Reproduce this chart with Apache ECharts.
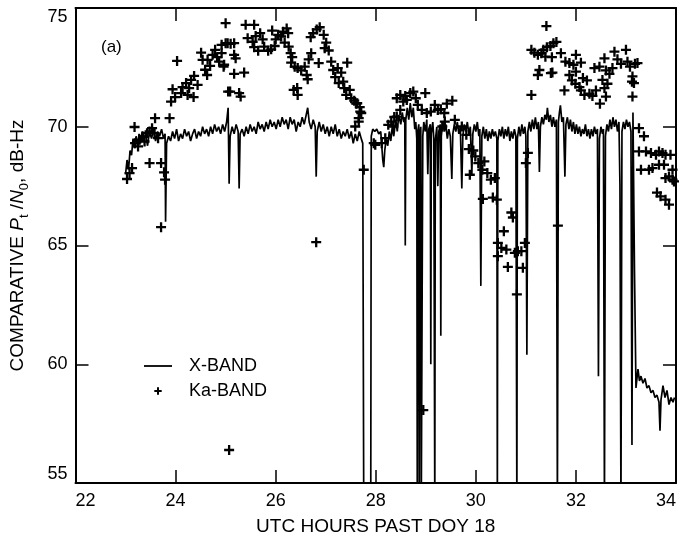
<!DOCTYPE html>
<html><head><meta charset="utf-8">
<script src="https://cdn.jsdelivr.net/npm/echarts@6/dist/echarts.min.js"></script>
<style>html,body{margin:0;padding:0;background:#fff}#c{width:679px;height:541px}</style>
</head><body><div id="c"></div>
<script>
const xTickLabels = [22, 24, 26, 28, 30, 32, 34];
const yTickLabels = [55, 60, 65, 70, 75];
const seriesNames = ['X-BAND', 'Ka-BAND'];

// X-band: [hours past DOY 18, dB-Hz]; 54 = dropout below the axis
const xBand = [
[23.00,68.0],[23.03,68.6],[23.06,68.2],[23.09,69.0],[23.12,68.8],[23.15,69.5],[23.18,69.1],[23.21,69.6],[23.24,69.2],[23.27,69.7],
[23.30,69.3],[23.33,69.8],[23.36,69.4],[23.40,69.7],[23.44,69.2],[23.48,69.8],[23.52,69.5],[23.56,69.9],[23.60,69.4],[23.64,69.8],
[23.68,69.6],[23.72,69.9],[23.76,69.5],[23.79,69.7],[23.80,66.0],[23.82,69.3],[23.86,69.6],[23.90,69.4],[23.94,69.8],[23.98,69.5],
[24.02,69.9],[24.06,69.4],[24.10,69.7],[24.14,69.5],[24.18,69.9],[24.22,69.6],[24.26,69.8],[24.30,69.4],[24.34,69.7],[24.38,69.9],
[24.42,69.5],[24.46,69.8],[24.50,69.6],[24.54,70.0],[24.58,69.7],[24.62,69.9],[24.66,69.6],[24.70,70.0],[24.74,69.7],[24.78,70.1],
[24.82,69.8],[24.86,70.0],[24.90,69.7],[24.94,70.1],[24.98,69.8],[25.02,70.2],[25.05,70.8],[25.07,67.6],[25.09,69.6],[25.13,70.0],
[25.17,69.7],[25.21,70.1],[25.25,69.8],[25.27,67.4],[25.29,69.7],[25.33,69.9],[25.37,69.6],[25.41,70.0],[25.45,69.7],[25.49,70.1],
[25.53,69.8],[25.57,70.0],[25.61,69.7],[25.65,70.2],[25.69,69.9],[25.73,70.1],[25.77,69.8],[25.81,70.2],[25.85,69.9],[25.89,70.3],
[25.93,70.0],[25.97,70.2],[26.01,69.9],[26.05,70.3],[26.09,70.0],[26.13,70.4],[26.17,70.1],[26.21,70.3],[26.25,69.9],[26.29,70.4],
[26.33,70.1],[26.37,70.3],[26.41,69.8],[26.45,70.2],[26.49,70.0],[26.53,70.4],[26.57,70.1],[26.61,70.5],[26.64,70.8],[26.67,70.2],
[26.71,69.9],[26.75,70.3],[26.79,70.0],[26.81,67.9],[26.83,69.8],[26.87,70.2],[26.91,69.8],[26.95,70.1],[26.99,69.7],[27.03,70.0],
[27.07,69.6],[27.11,70.0],[27.15,69.7],[27.19,70.1],[27.23,69.6],[27.27,69.9],[27.31,69.5],[27.35,69.8],[27.39,69.6],[27.43,69.9],
[27.47,69.5],[27.51,69.8],[27.55,69.3],[27.59,69.7],[27.63,69.4],[27.67,69.8],[27.71,69.5],[27.74,69.3],[27.76,54],[27.90,54],
[27.91,69.6],[27.94,69.9],[27.98,69.8],[28.02,69.9],[28.06,69.7],[28.10,69.8],[28.12,69.2],[28.14,68.6],[28.16,68.3],[28.18,69.0],
[28.21,69.5],[28.24,69.2],[28.27,69.8],[28.30,69.4],[28.33,70.0],[28.36,69.6],[28.40,70.3],[28.43,69.8],[28.46,70.5],[28.50,70.1],
[28.53,70.6],[28.56,70.2],[28.58,70.4],[28.59,65.0],[28.60,70.3],[28.63,70.8],[28.66,70.3],[28.69,71.0],[28.72,70.4],[28.75,70.8],
[28.78,69.9],[28.80,70.2],[28.82,69.5],[28.83,54],[28.84,69.8],[28.86,70.1],[28.87,54],[28.88,69.5],[28.90,70.0],[28.91,54],
[28.93,54],[28.94,69.6],[28.96,70.2],[28.99,69.8],[29.02,70.3],[29.04,68.0],[29.06,69.9],[29.09,70.1],[29.10,60.0],[29.11,69.7],
[29.14,70.2],[29.16,69.5],[29.18,54],[29.19,69.4],[29.22,70.0],[29.24,67.5],[29.26,69.8],[29.29,70.1],[29.30,61.2],[29.31,69.6],
[29.34,70.2],[29.37,69.8],[29.40,70.1],[29.43,69.5],[29.46,69.9],[29.49,69.6],[29.52,67.8],[29.54,69.7],[29.57,70.1],[29.60,69.8],
[29.63,70.2],[29.66,69.7],[29.69,70.0],[29.72,67.4],[29.74,69.6],[29.77,70.1],[29.80,69.8],[29.83,70.2],[29.86,69.7],[29.89,70.0],
[29.92,68.0],[29.94,69.7],[29.97,70.1],[30.00,69.8],[30.03,70.2],[30.06,69.6],[30.08,69.9],[30.10,63.3],[30.12,69.6],[30.15,70.0],
[30.18,69.5],[30.21,69.9],[30.24,69.4],[30.27,69.8],[30.30,69.5],[30.33,69.9],[30.36,69.6],[30.39,69.8],[30.42,69.5],[30.43,54],
[30.44,69.4],[30.47,69.9],[30.50,69.6],[30.53,70.0],[30.56,69.5],[30.59,69.9],[30.62,69.6],[30.65,70.0],[30.68,69.4],[30.71,69.8],
[30.74,69.5],[30.77,69.9],[30.80,69.6],[30.82,54],[30.83,69.5],[30.86,70.0],[30.89,69.6],[30.92,70.1],[30.95,69.7],[30.98,70.0],
[31.00,69.6],[31.02,60.4],[31.04,69.8],[31.07,70.2],[31.10,69.8],[31.13,70.3],[31.16,69.9],[31.19,70.4],[31.22,69.9],[31.25,70.2],
[31.27,68.1],[31.29,70.0],[31.32,70.4],[31.35,70.1],[31.38,70.5],[31.41,70.3],[31.43,70.8],[31.46,70.2],[31.49,70.5],[31.52,70.0],
[31.55,70.4],[31.58,70.0],[31.61,70.3],[31.63,54],[31.65,70.2],[31.67,70.6],[31.69,70.9],[31.72,70.2],[31.75,70.4],[31.78,67.9],
[31.80,70.1],[31.83,70.4],[31.86,69.9],[31.89,70.3],[31.92,69.8],[31.95,70.2],[31.98,69.7],[32.01,70.1],[32.04,69.7],[32.07,70.0],
[32.10,69.6],[32.13,69.9],[32.16,69.7],[32.19,70.1],[32.22,69.6],[32.25,69.9],[32.28,69.5],[32.31,69.9],[32.34,69.6],[32.37,70.0],
[32.40,69.7],[32.43,69.9],[32.45,59.5],[32.47,69.5],[32.50,70.0],[32.53,69.7],[32.55,69.9],[32.57,54],[32.59,69.6],[32.62,70.1],
[32.65,69.8],[32.68,70.3],[32.71,69.9],[32.74,70.4],[32.77,70.0],[32.80,70.3],[32.83,69.8],[32.86,70.2],[32.88,67.5],[32.90,54],
[32.92,69.8],[32.95,70.2],[32.98,69.9],[33.01,70.3],[33.04,70.0],[33.07,70.2],[33.10,69.8],[33.12,56.6],[33.14,70.6],[33.17,64.0],
[33.20,59.0],[33.24,59.8],[33.27,59.3],[33.30,59.5],[33.34,59.2],[33.38,59.4],[33.42,59.0],[33.46,59.1],[33.50,58.8],[33.54,58.9],
[33.58,58.6],[33.62,58.7],[33.66,58.4],[33.68,57.2],[33.70,58.5],[33.74,59.1],[33.78,58.6],[33.82,58.9],[33.86,58.3],[33.90,58.6],
[33.94,58.4],[33.97,58.6]
];

// Ka-band: [hours past DOY 18, dB-Hz]
const kaBand = [
[23.03,67.8],[23.08,68.05],[23.13,68.26],[23.18,69.99],[23.19,69.31],[23.25,69.17],[23.28,69.45],[23.35,69.59],[23.38,69.38],[23.43,69.73],
[23.48,69.8],[23.53,69.94],[23.58,69.73],[23.48,68.47],[23.59,70.36],[23.88,70.36],[23.71,68.47],[23.77,68.08],[23.79,67.77],[23.65,69.52],
[23.71,65.77],
[23.91,71.06],[23.99,71.25],[23.94,71.58],[24.03,72.77],[24.14,71.67],[24.11,71.42],[24.21,71.84],[24.27,71.63],[24.31,71.97],[24.37,72.14],
[24.44,71.76],[24.36,71.25],[24.24,71.34],[24.51,73.12],[24.54,72.82],[24.64,72.82],[24.59,72.4],[24.63,72.18],[24.69,72.56],[24.74,73.03],
[24.79,73.24],[24.83,72.93],[24.87,72.74],[24.92,73.1],[24.96,72.53],[25.0,74.36],[24.92,73.45],[25.0,73.52],[25.1,73.49],[25.09,71.48],
[25.27,71.42],[25.17,72.23],[25.2,72.88],[25.04,73.52],[25.17,73.52],[25.17,73.03],[24.97,72.61],[25.37,72.28],[25.3,71.27],[25.4,74.29],
[25.57,74.29],[25.44,73.73],[25.54,73.58],[25.6,73.82],[25.69,73.94],[25.74,73.68],[25.57,73.35],[25.65,73.2],[25.77,73.37],[25.85,73.2],
[25.91,73.26],[25.98,73.4],[26.0,73.68],[25.93,74.05],[26.05,73.87],[26.11,73.8],[26.15,74.0],[26.22,74.14],[26.25,73.94],[26.18,73.54],
[26.26,73.37],[26.3,73.1],[26.33,72.93],[26.31,72.7],[26.38,72.53],[26.44,72.47],[26.51,72.37],[26.58,72.53],[26.62,72.18],[26.64,72.0],
[26.43,71.63],[26.44,71.34],[26.7,73.77],[26.75,73.94],[26.82,74.1],[26.88,74.19],[26.96,73.87],[27.01,73.54],[26.98,73.31],[27.06,73.21],
[26.71,73.1],[26.66,72.84],[26.86,72.68],[27.11,72.74],[27.15,72.39],[27.24,72.47],[27.31,72.28],[27.43,72.7],[27.19,72.09],[27.26,71.84],
[27.35,71.9],[27.37,71.63],[27.41,71.34],[27.48,71.55],[27.51,71.2],[27.57,71.1],[27.61,70.97],[27.68,70.83],[27.71,70.58],[27.66,70.36],
[27.59,70.01],[26.36,71.55],[25.05,71.48],[26.81,65.14],[25.07,56.39],
[27.63,70.99],[27.69,70.64],[27.66,70.22],[27.76,68.19],[27.99,69.24],[28.12,69.31],[28.19,69.52],[27.96,69.31],[28.25,70.08],[28.31,70.22],
[28.37,70.41],[28.42,71.2],[28.49,71.34],[28.55,71.06],[28.62,71.13],[28.69,71.42],[28.75,71.48],[28.8,71.2],[28.84,70.92],[28.99,71.42],
[28.92,70.71],[29.02,70.58],[29.1,70.64],[29.18,70.92],[29.24,70.71],[29.3,70.74],[29.37,70.58],[29.42,70.97],[29.53,71.1],[29.38,70.22],
[29.33,70.01],[29.58,70.29],[29.72,70.01],[29.81,69.66],[29.86,69.06],[29.95,69.0],[29.99,68.75],[29.88,67.98],[30.05,68.47],[30.17,68.54],
[30.13,68.19],[30.23,68.05],[30.3,67.77],[30.38,67.84],[28.35,70.01],[28.42,70.43],[28.49,70.71],[28.59,71.3],[28.95,58.07],
[30.14,66.96],[30.34,67.02],[30.42,66.93],[30.71,66.39],[30.74,66.18],[30.56,65.6],[30.44,65.11],[30.51,64.9],[30.61,64.83],[30.44,64.55],
[30.78,64.69],[30.84,64.76],[30.91,64.76],[30.98,65.11],[30.64,64.1],[30.94,64.06],[30.82,62.94],[31.64,65.84],[31.04,68.9],[31.0,68.47],
[31.41,74.24],[31.11,73.24],[31.17,73.12],[31.24,73.03],[31.31,73.1],[31.35,73.24],[31.42,73.35],[31.49,73.4],[31.55,73.52],[31.61,73.57],
[31.39,72.95],[31.52,72.93],[31.7,73.1],[31.79,72.74],[31.87,72.68],[31.95,72.61],[32.0,73.03],[32.1,72.7],[31.27,72.39],[31.24,72.18],
[31.53,72.28],[31.11,71.34],[31.77,71.53],[31.87,72.18],[31.92,71.95],[31.99,71.81],[32.07,71.67],[32.14,72.05],[32.22,71.95],[32.1,71.53],
[32.17,71.34],[32.27,71.39],[32.33,71.3],[32.4,71.53],[32.37,72.47],[32.47,72.53],[32.57,72.88],[32.6,72.37],[32.67,72.23],[32.73,72.47],
[32.77,73.16],[32.83,72.84],[32.9,72.65],[33.0,73.24],[33.03,72.74],[33.08,72.53],[33.13,72.12],[33.12,71.9],[33.16,71.84],[33.18,72.65],
[33.23,72.68],[33.13,71.27],[32.53,71.97],[32.6,71.27],[32.48,70.97],[32.57,71.63],[32.63,71.81],[32.0,72.32],[31.5,72.26],
[33.26,69.94],[33.36,69.6],[33.26,68.96],[33.4,68.96],[33.5,68.89],[33.6,68.82],[33.66,68.96],[33.73,68.89],[33.79,68.82],[33.89,68.82],
[33.3,68.19],[33.46,68.19],[33.53,68.26],[33.66,68.4],[33.76,68.4],[33.93,68.19],[33.86,67.91],[33.93,67.77],[33.62,67.23],[33.69,67.07],
[33.79,66.93],[33.86,66.72],[33.96,67.7],[33.79,67.84]
];

const FONT = '"Liberation Sans", Arial, Helvetica, sans-serif';
const BLACK = '#000';
const xMin = xTickLabels[0], xMax = xTickLabels[xTickLabels.length - 1], xStep = xTickLabels[1] - xTickLabels[0];
const yMin = yTickLabels[0], yMax = yTickLabels[yTickLabels.length - 1], yStep = yTickLabels[1] - yTickLabels[0];
const plusPath = 'path://M3.85,0H6.15V3.85H10V6.15H6.15V10H3.85V6.15H0V3.85H3.85Z';

function baseAxis(extra) {
  return Object.assign({
    type: 'value',
    axisLine: { show: true, onZero: false, lineStyle: { color: BLACK, width: 2 } },
    axisTick: { show: true, inside: true, length: 13, lineStyle: { color: BLACK, width: 1.5 } },
    splitLine: { show: false },
    axisLabel: { show: false }
  }, extra);
}

const chart = echarts.init(document.getElementById('c'), null, { renderer: 'canvas' });
chart.setOption({
  animation: false,
  backgroundColor: '#fff',
  textStyle: { fontFamily: FONT, color: BLACK },
  title: { text: '(a)', left: 96, top: 34, textStyle: { fontSize: 17, fontWeight: 'normal', color: BLACK, fontFamily: FONT } },
  legend: {
    orient: 'vertical', left: 139, top: 352, itemWidth: 40, itemHeight: 10, itemGap: 7,
    textStyle: { fontSize: 18, color: BLACK, fontFamily: FONT },
    itemStyle: { borderWidth: 0 },
    data: [
      { name: seriesNames[0], icon: 'path://M0,0M40,10M0,4.1H28V5.9H0Z' },
      { name: seriesNames[1], icon: 'path://M0,0M40,10M13,1.3H15V4H17.7V6H15V8.7H13V6H10.3V4H13Z' }
    ]
  },
  grid: { left: 74, right: 2, top: 8, bottom: 57 },
  xAxis: [
    baseAxis({
      position: 'bottom', min: xMin, max: xMax, interval: xStep,
      axisLabel: { show: true, fontSize: 18, color: BLACK, fontFamily: FONT, margin: 9, alignMinLabel: 'left', alignMaxLabel: 'right' },
      name: 'UTC HOURS PAST DOY 18', nameLocation: 'middle', nameGap: 34,
      nameTextStyle: { fontSize: 19, color: BLACK, fontFamily: FONT }
    }),
    baseAxis({ position: 'top', min: xMin, max: xMax, interval: xStep })
  ],
  yAxis: [
    baseAxis({
      position: 'left', min: yMin, max: yMax, interval: yStep,
      axisLabel: { show: true, fontSize: 18, color: BLACK, fontFamily: FONT, margin: 8, verticalAlignMinLabel: 'bottom', verticalAlignMaxLabel: 'top' },
      name: '{a|COMPARATIVE }{i|P}{s|t}{a| /}{i|N}{s|0}{a|, dB-Hz}',
      nameLocation: 'middle', nameGap: 45,
      nameTextStyle: {
        fontSize: 19, color: BLACK, fontFamily: FONT,
        rich: {
          a: { fontSize: 19, lineHeight: 26, color: BLACK, fontFamily: FONT },
          i: { fontSize: 19, lineHeight: 26, fontStyle: 'italic', color: BLACK, fontFamily: FONT },
          s: { fontSize: 13, lineHeight: 12, verticalAlign: 'bottom', color: BLACK, fontFamily: FONT }
        }
      }
    }),
    baseAxis({ position: 'right', min: yMin, max: yMax, interval: yStep })
  ],
  series: [
    {
      name: seriesNames[0], type: 'line', data: xBand, symbol: 'none', showSymbol: false,
      clip: true, lineStyle: { color: BLACK, width: 1.7 }, itemStyle: { color: BLACK, borderWidth: 0 }, z: 2
    },
    {
      name: seriesNames[1], type: 'scatter', data: kaBand, symbol: plusPath, symbolSize: 10,
      clip: true, itemStyle: { color: BLACK, borderWidth: 0, opacity: 1 }, z: 3
    }
  ]
});
</script>
</body></html>
